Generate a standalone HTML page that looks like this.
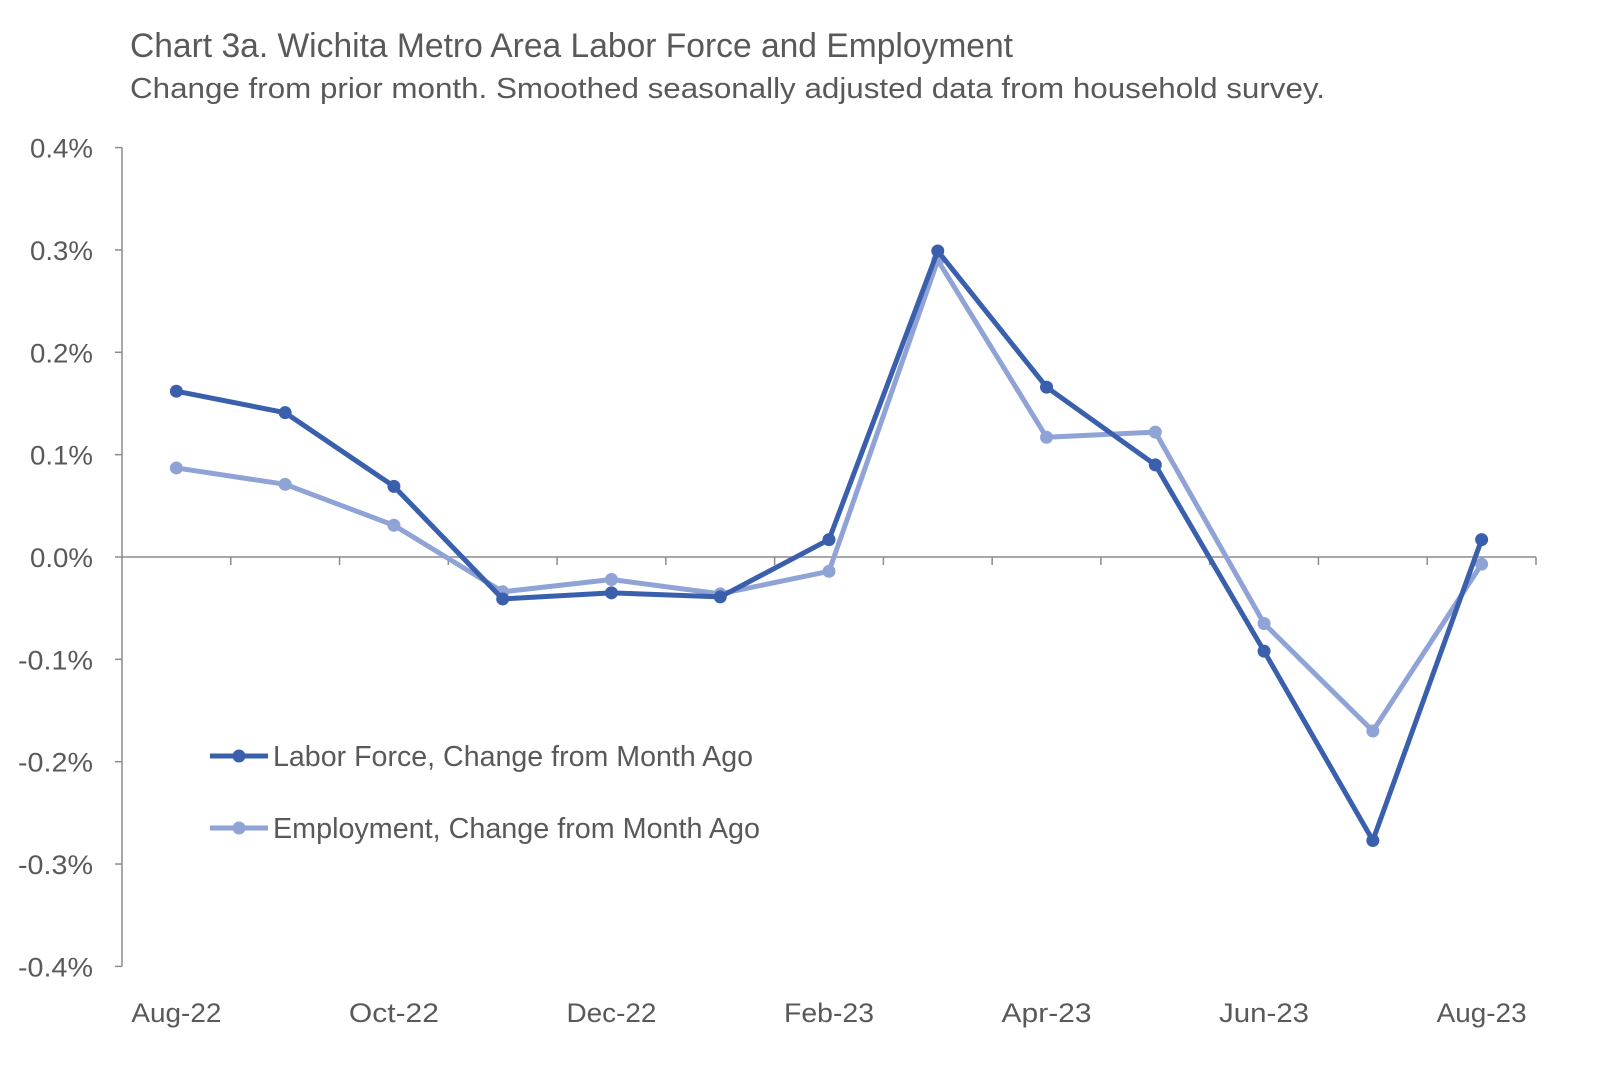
<!DOCTYPE html>
<html><head><meta charset="utf-8"><style>
body{margin:0;background:#fff;}
svg text{font-family:"Liberation Sans Narrow","Liberation Sans",sans-serif;fill:#595959;}
</style></head><body>
<svg width="1600" height="1068" viewBox="0 0 1600 1068" xmlns="http://www.w3.org/2000/svg" id="chart">
<text x="130" y="57" font-size="34" textLength="883" lengthAdjust="spacingAndGlyphs">Chart 3a. Wichita Metro Area Labor Force and Employment</text>
<text x="130" y="98" font-size="29" textLength="1195" lengthAdjust="spacingAndGlyphs">Change from prior month. Smoothed seasonally adjusted data from household survey.</text>
<g id="axes"></g>
<g id="series"></g>
<g>
<g>
<line x1="210" y1="756" x2="268" y2="756" stroke="#3a5fad" stroke-width="5"/>
<circle cx="239" cy="756" r="6.5" fill="#3a5fad"/>
<text x="273" y="766" font-size="29" textLength="480" lengthAdjust="spacingAndGlyphs">Labor Force, Change from Month Ago</text></g>
<g>
<line x1="210" y1="828" x2="268" y2="828" stroke="#8fa3d6" stroke-width="5"/>
<circle cx="239" cy="828" r="6.5" fill="#8fa3d6"/>
<text x="273" y="838" font-size="29" textLength="487" lengthAdjust="spacingAndGlyphs">Employment, Change from Month Ago</text></g>
</g>
</svg>
<script>
const categories=["Aug-22","Sep-22","Oct-22","Nov-22","Dec-22","Jan-23","Feb-23","Mar-23","Apr-23","May-23","Jun-23","Jul-23","Aug-23"];
const laborForce=[0.162,0.141,0.069,-0.041,-0.035,-0.039,0.017,0.299,0.166,0.090,-0.092,-0.277,0.017];
const employment=[0.087,0.071,0.031,-0.034,-0.022,-0.036,-0.014,0.290,0.117,0.122,-0.065,-0.170,-0.007];
const yTicks=[0.4,0.3,0.2,0.1,0,-0.1,-0.2,-0.3,-0.4];
const yTickLabels=["0.4%","0.3%","0.2%","0.1%","0.0%","-0.1%","-0.2%","-0.3%","-0.4%"];
const NS="http://www.w3.org/2000/svg";
const x0=122,x1=1536,step=(x1-x0)/categories.length;
const X=i=>x0+step*(i+0.5);
const Y=v=>557-v*1023.5;
function mk(t,a,p){const e=document.createElementNS(NS,t);for(const k in a)e.setAttribute(k,a[k]);p.appendChild(e);return e;}
const ax=document.getElementById('axes');
const ya=mk('line',{x1:x0,y1:Y(0.4),x2:x0,y2:Y(-0.4),stroke:'#8c8c8c','stroke-width':1.5},ax);


yTicks.forEach((v,i)=>{
 const t=mk('line',{x1:x0-7,y1:Y(v),x2:x0,y2:Y(v),stroke:'#8c8c8c','stroke-width':1.5},ax);
 
 
 const lbl=yTickLabels[i];
 const l=mk('text',{x:x0-29,y:Y(v)+10,'font-size':27,'text-anchor':'end',textLength:lbl.startsWith('-')?75:63,lengthAdjust:'spacingAndGlyphs'},ax);l.textContent=lbl;
 
 
});
const xa=mk('line',{x1:x0,y1:Y(0),x2:x1,y2:Y(0),stroke:'#8c8c8c','stroke-width':1.5},ax);


for(let i=1;i<=categories.length;i++){
 const t=mk('line',{x1:x0+step*i,y1:Y(0),x2:x0+step*i,y2:Y(0)+8,stroke:'#8c8c8c','stroke-width':1.5},ax);
 
 
}
categories.forEach((c,i)=>{if(i%2)return;
 const l=mk('text',{x:X(i),y:1022,'font-size':27,'text-anchor':'middle',textLength:90,lengthAdjust:'spacingAndGlyphs'},ax);l.textContent=c;
 
 
});
const sg=document.getElementById('series');
function draw(vals,color,name){
 const g=mk('g',{},sg);
 
 
 const p=mk('polyline',{points:vals.map((v,i)=>X(i)+','+Y(v)).join(' '),fill:'none',stroke:color,'stroke-width':5,'stroke-linejoin':'round'},g);
 
 
 vals.forEach((v,i)=>{const c=mk('circle',{cx:X(i),cy:Y(v),r:6.5,fill:color},g);
  
  });
}
draw(employment,'#8fa3d6','employment-series');
draw(laborForce,'#3a5fad','labor-force-series');
</script>
</body></html>
